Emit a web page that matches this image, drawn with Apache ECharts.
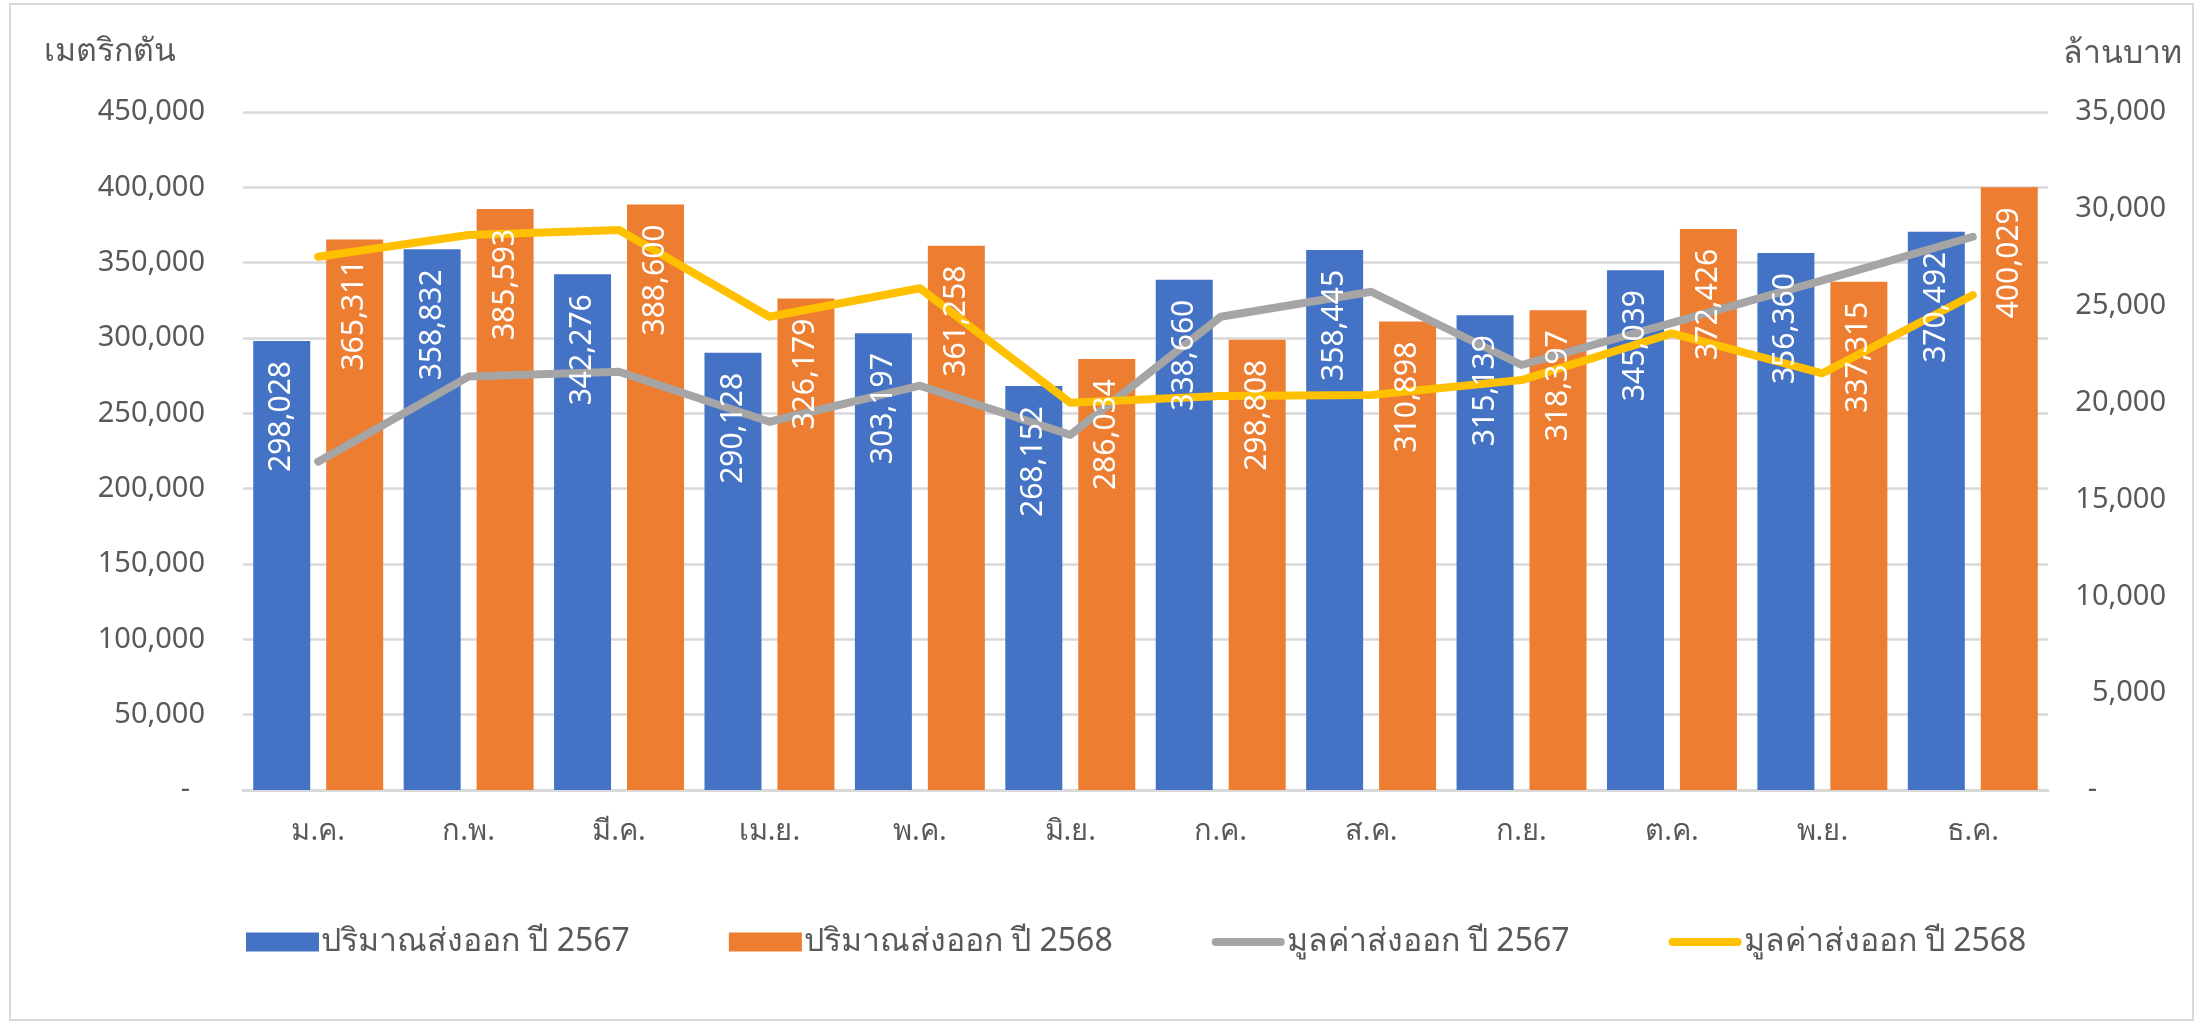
<!DOCTYPE html>
<html>
<head>
<meta charset="utf-8">
<script src="https://cdn.jsdelivr.net/npm/echarts@6/dist/echarts.min.js"></script>
<style>
  html, body { margin: 0; padding: 0; background: #fff; }
  #chart { width: 2200px; height: 1024px; }
</style>
</head>
<body>
<div id="chart"></div>
<script>
const months = ['ม.ค.', 'ก.พ.', 'มี.ค.', 'เม.ย.', 'พ.ค.', 'มิ.ย.', 'ก.ค.', 'ส.ค.', 'ก.ย.', 'ต.ค.', 'พ.ย.', 'ธ.ค.'];

// ปริมาณ (เมตริกตัน)
const qty2567 = [298028, 358832, 342276, 290128, 303197, 268152, 338660, 358445, 315139, 345039, 356360, 370492];
const qty2568 = [365311, 385593, 388600, 326179, 361258, 286034, 298808, 310898, 318397, 372426, 337315, 400029];

// มูลค่า (ล้านบาท) - อ่านจากกราฟ
const val2567 = [16950, 21340, 21590, 19010, 20870, 18330, 24430, 25720, 21940, 24110, 26310, 28560];
const val2568 = [27530, 28650, 28910, 24430, 25900, 19990, 20340, 20390, 21160, 23570, 21510, 25550];

const seriesNames = ['ปริมาณส่งออก ปี 2567', 'ปริมาณส่งออก ปี 2568', 'มูลค่าส่งออก ปี 2567', 'มูลค่าส่งออก ปี 2568'];

const FONT = "'Noto Sans', 'DejaVu Sans', sans-serif";
const TXT = '#595959';
const fmt = v => Number(v).toLocaleString('en-US');
// ไอคอนเส้นใน legend (กรอบ 75x19 เส้นหนา 8 ตรงกลาง)
const LINE_ICON = 'path://M0,0 M75,19 M4,5.5 L71,5.5 A4,4 0 0 1 71,13.5 L4,13.5 A4,4 0 0 1 4,5.5 Z';

const ExportChart = {
  chart: null,

  init() {
    this.chart = echarts.init(document.getElementById('chart'));
    this.chart.setOption(this._option());
  },

  /** ป้ายตัวเลขแนวตั้งบนแท่ง - วาดเป็นชั้นบนสุดให้ทับเส้น */
  _labelSeries(data) {
    return {
      type: 'bar', xAxisIndex: 1, data, barWidth: 57, barGap: '28%', z: 5, silent: true,
      itemStyle: { color: 'rgba(0,0,0,0)' },
      label: {
        show: true, position: 'insideTop', rotate: 90, distance: 20,
        align: 'right', verticalAlign: 'middle',
        color: '#fff', fontSize: 30, fontFamily: FONT,
        formatter: p => fmt(p.value)
      }
    };
  },

  _option() {
    return {
      animation: false,
      textStyle: { fontFamily: FONT },
      grid: { left: 243, right: 152, top: 112, bottom: 234 },
      graphic: [
        { type: 'rect', shape: { x: 10, y: 4, width: 2183, height: 1016 }, style: { fill: 'none', stroke: '#d9d9d9', lineWidth: 2 } },
        { type: 'text', left: 44, top: 36, style: { text: 'เมตริกตัน', fill: TXT, font: `32px ${FONT}` } },
        { type: 'text', right: 18, top: 38, style: { text: 'ล้านบาท', fill: TXT, font: `32px ${FONT}` } }
      ],
      legend: {
        data: [
          { name: seriesNames[0], icon: 'rect' },
          { name: seriesNames[1], icon: 'rect' },
          { name: seriesNames[2], icon: LINE_ICON },
          { name: seriesNames[3], icon: LINE_ICON }
        ],
        left: 241, top: 921,
        itemWidth: 73, itemHeight: 19, itemGap: 99,
        textStyle: { color: TXT, fontSize: 32, fontFamily: FONT, padding: [0, 0, 0, -3] }
      },
      xAxis: [
        {
          type: 'category', data: months,
          axisLine: { lineStyle: { color: '#d9d9d9', width: 3 } },
          axisTick: { show: false },
          axisLabel: { color: TXT, fontSize: 29, margin: 27, fontFamily: FONT }
        },
        { type: 'category', data: months, show: false }
      ],
      yAxis: [
        {
          type: 'value', min: 0, max: 450000, interval: 50000,
          axisLine: { show: false }, axisTick: { show: false },
          splitLine: { lineStyle: { color: '#d9d9d9', width: 2.5 } },
          axisLabel: {
            color: TXT, fontSize: 29, margin: 38, fontFamily: FONT,
            formatter: v => v === 0 ? '{z|-}' : fmt(v),
            rich: { z: { color: TXT, fontSize: 29, padding: [0, 15, 0, 0] } }
          }
        },
        {
          type: 'value', min: 0, max: 35000, interval: 5000, position: 'right',
          axisLine: { show: false }, axisTick: { show: false }, splitLine: { show: false },
          axisLabel: {
            color: TXT, fontSize: 29, margin: 118, align: 'right', fontFamily: FONT,
            formatter: v => v === 0 ? '{z|-}' : fmt(v),
            rich: { z: { color: TXT, fontSize: 29, padding: [0, 69, 0, 0] } }
          }
        }
      ],
      series: [
        { name: seriesNames[0], type: 'bar', data: qty2567, barWidth: 57, barGap: '28%', itemStyle: { color: '#4472c4' } },
        { name: seriesNames[1], type: 'bar', data: qty2568, barWidth: 57, itemStyle: { color: '#ed7d31' } },
        { name: seriesNames[2], type: 'line', yAxisIndex: 1, data: val2567, symbol: 'none', lineStyle: { color: '#a5a5a5', width: 8, cap: 'round', join: 'round' }, itemStyle: { color: '#a5a5a5' } },
        { name: seriesNames[3], type: 'line', yAxisIndex: 1, data: val2568, symbol: 'none', lineStyle: { color: '#ffc000', width: 8, cap: 'round', join: 'round' }, itemStyle: { color: '#ffc000' } },
        this._labelSeries(qty2567),
        this._labelSeries(qty2568)
      ]
    };
  }
};

ExportChart.init();
</script>
</body>
</html>
